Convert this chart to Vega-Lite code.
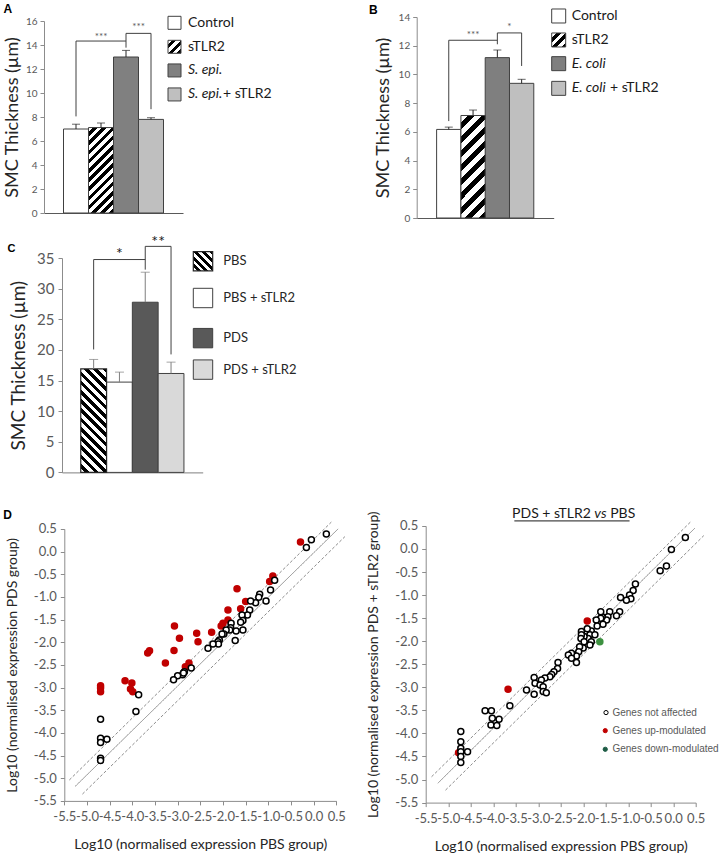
{
"$schema": "https://vega.github.io/schema/vega-lite/v6.json",
"background": "white",
"padding": {"left": 3, "top": 3, "right": 0, "bottom": 0},
"config": {"view": {"stroke": null}, "font": "Lato", "axis": {"grid": false, "labelFont": "Lato", "titleFont": "Lato"}, "text": {"font": "Lato"}, "legend": {"disable": true}},
"columns": 2,
"bounds": "flush",
"align": {"row": "each", "column": "none"},
"spacing": {"row": 40, "column": 79.7},
"resolve": {"scale": {"fill": "independent", "stroke": "independent", "strokeDash": "independent"}},
"concat": [
{
 "width": 272.8, "height": 196,
 "title": {"text": "A", "anchor": "start", "frame": "bounds", "font": "Liberation Sans", "fontSize": 12, "fontWeight": "bold", "color": "black", "offset": -2, "dx": 0},
 "resolve": {"scale": {"x": "independent"}},
 "layer": [
  {"layer": [
   {"data": {"values": [{"g":"Control","v":7.0,"e":7.4},{"g":"sTLR2","v":7.12,"e":7.5},{"g":"S. epi.","v":13.0,"e":13.55},{"g":"S. epi.+ sTLR2","v":7.8,"e":7.94}]},
    "transform": [{"filter": "datum.g !== 'sTLR2'"}],
    "mark": {"type": "bar", "stroke": "#404040", "strokeWidth": 1},
    "encoding": {
     "x": {"field":"g","type":"nominal","title":null,"scale":{"domain":["Control","sTLR2","S. epi.","S. epi.+ sTLR2"],"range":[0,139],"paddingInner":0,"paddingOuter":0.78},"axis":{"title":null,"labels":false,"ticks":false,"domainColor":"#595959","grid":false}},
     "y": {"field":"v","type":"quantitative","title":"SMC Thickness (µm)","scale":{"domain":[0,16],"range":[196,4],"nice":false},"axis":{"title":"SMC Thickness (µm)","values":[0,2,4,6,8,10,12,14,16],"grid":false,"domainColor":"#8c8c8c","tickColor":"#8c8c8c","tickSize":4,"labelFontSize":10,"labelColor":"#595959","labelPadding":3,"titleFontSize":18,"titleFontWeight":"normal","titleColor":"#262626","titlePadding":4}},
     "fill": {"field":"g","type":"nominal","scale":{"domain":["Control","sTLR2","S. epi.","S. epi.+ sTLR2"],"range":["white","white","#808080","#bfbfbf"]},"legend":null}
    }},
   {"data": {"values": [{"g":"sTLR2","v":7.12,"e":7.5}]},
    "mark": {"type": "bar", "stroke": "#404040", "strokeWidth": 1, "fill": {"gradient":"linear","x1":0,"y1":0,"x2":0.348,"y2":1.19,"stops":[{"offset":0,"color":"white"},{"offset":0.0417,"color":"white"},{"offset":0.0417,"color":"black"},{"offset":0.0833,"color":"black"},{"offset":0.0833,"color":"white"},{"offset":0.125,"color":"white"},{"offset":0.125,"color":"black"},{"offset":0.1667,"color":"black"},{"offset":0.1667,"color":"white"},{"offset":0.2083,"color":"white"},{"offset":0.2083,"color":"black"},{"offset":0.25,"color":"black"},{"offset":0.25,"color":"white"},{"offset":0.2917,"color":"white"},{"offset":0.2917,"color":"black"},{"offset":0.3333,"color":"black"},{"offset":0.3333,"color":"white"},{"offset":0.375,"color":"white"},{"offset":0.375,"color":"black"},{"offset":0.4167,"color":"black"},{"offset":0.4167,"color":"white"},{"offset":0.4583,"color":"white"},{"offset":0.4583,"color":"black"},{"offset":0.5,"color":"black"},{"offset":0.5,"color":"white"},{"offset":0.5417,"color":"white"},{"offset":0.5417,"color":"black"},{"offset":0.5833,"color":"black"},{"offset":0.5833,"color":"white"},{"offset":0.625,"color":"white"},{"offset":0.625,"color":"black"},{"offset":0.6667,"color":"black"},{"offset":0.6667,"color":"white"},{"offset":0.7083,"color":"white"},{"offset":0.7083,"color":"black"},{"offset":0.75,"color":"black"},{"offset":0.75,"color":"white"},{"offset":0.7917,"color":"white"},{"offset":0.7917,"color":"black"},{"offset":0.8333,"color":"black"},{"offset":0.8333,"color":"white"},{"offset":0.875,"color":"white"},{"offset":0.875,"color":"black"},{"offset":0.9167,"color":"black"},{"offset":0.9167,"color":"white"},{"offset":0.9583,"color":"white"},{"offset":0.9583,"color":"black"},{"offset":1,"color":"black"}]}},
    "encoding": {
     "x": {"field":"g","type":"nominal","title":null,"scale":{"domain":["Control","sTLR2","S. epi.","S. epi.+ sTLR2"],"range":[0,139],"paddingInner":0,"paddingOuter":0.78},"axis":{"title":null,"labels":false,"ticks":false,"domainColor":"#595959","grid":false}},
     "y": {"field":"v","type":"quantitative","title":"SMC Thickness (µm)","scale":{"domain":[0,16],"range":[196,4],"nice":false},"axis":{"title":"SMC Thickness (µm)","values":[0,2,4,6,8,10,12,14,16],"grid":false,"domainColor":"#8c8c8c","tickColor":"#8c8c8c","tickSize":4,"labelFontSize":10,"labelColor":"#595959","labelPadding":3,"titleFontSize":18,"titleFontWeight":"normal","titleColor":"#262626","titlePadding":4}}
    }},
   {"data": {"values": [{"g":"Control","v":7.0,"e":7.4},{"g":"sTLR2","v":7.12,"e":7.5},{"g":"S. epi.","v":13.0,"e":13.55},{"g":"S. epi.+ sTLR2","v":7.8,"e":7.94}]},
    "layer": [
     {"mark": {"type": "rule", "color": "#262626", "strokeWidth": 1},
      "encoding": {
       "x": {"field":"g","type":"nominal","title":null,"scale":{"domain":["Control","sTLR2","S. epi.","S. epi.+ sTLR2"],"range":[0,139],"paddingInner":0,"paddingOuter":0.78},"axis":{"title":null,"labels":false,"ticks":false,"domainColor":"#595959","grid":false}},
       "y": {"field":"v","type":"quantitative","title":"SMC Thickness (µm)","scale":{"domain":[0,16],"range":[196,4],"nice":false},"axis":{"title":"SMC Thickness (µm)","values":[0,2,4,6,8,10,12,14,16],"grid":false,"domainColor":"#8c8c8c","tickColor":"#8c8c8c","tickSize":4,"labelFontSize":10,"labelColor":"#595959","labelPadding":3,"titleFontSize":18,"titleFontWeight":"normal","titleColor":"#262626","titlePadding":4}},
       "y2": {"field":"e"}
      }},
     {"mark": {"type": "tick", "orient": "horizontal", "color": "#262626", "size": 8, "thickness": 1},
      "encoding": {
       "x": {"field":"g","type":"nominal","title":null,"scale":{"domain":["Control","sTLR2","S. epi.","S. epi.+ sTLR2"],"range":[0,139],"paddingInner":0,"paddingOuter":0.78},"axis":{"title":null,"labels":false,"ticks":false,"domainColor":"#595959","grid":false}},
       "y": {"field":"e","type":"quantitative","title":"SMC Thickness (µm)","scale":{"domain":[0,16],"range":[196,4],"nice":false},"axis":{"title":"SMC Thickness (µm)","values":[0,2,4,6,8,10,12,14,16],"grid":false,"domainColor":"#8c8c8c","tickColor":"#8c8c8c","tickSize":4,"labelFontSize":10,"labelColor":"#595959","labelPadding":3,"titleFontSize":18,"titleFontWeight":"normal","titleColor":"#262626","titlePadding":4}}
      }}
    ]},
   {"data": {"values": [{"a":"Control","b":"S. epi.","y1":14.33,"y2":14.33},{"a":"Control","b":"Control","y1":8.05,"y2":14.33},{"a":"S. epi.","b":"S. epi.","y1":13.78,"y2":14.97},{"a":"S. epi.","b":"S. epi.+ sTLR2","y1":14.97,"y2":14.97},{"a":"S. epi.+ sTLR2","b":"S. epi.+ sTLR2","y1":8.65,"y2":14.97}]},
    "mark": {"type": "rule", "color": "#404040", "strokeWidth": 1},
    "encoding": {
     "x": {"field":"a","type":"nominal","title":null,"scale":{"domain":["Control","sTLR2","S. epi.","S. epi.+ sTLR2"],"range":[0,139],"paddingInner":0,"paddingOuter":0.78},"axis":{"title":null,"labels":false,"ticks":false,"domainColor":"#595959","grid":false}},
     "x2": {"field":"b"},
     "y": {"field":"y1","type":"quantitative","title":"SMC Thickness (µm)","scale":{"domain":[0,16],"range":[196,4],"nice":false},"axis":{"title":"SMC Thickness (µm)","values":[0,2,4,6,8,10,12,14,16],"grid":false,"domainColor":"#8c8c8c","tickColor":"#8c8c8c","tickSize":4,"labelFontSize":10,"labelColor":"#595959","labelPadding":3,"titleFontSize":18,"titleFontWeight":"normal","titleColor":"#262626","titlePadding":4}},
     "y2": {"field":"y2"}
    }},
   {"data": {"values": [{"g":"sTLR2","y":14.65,"t":"***"}]},
    "mark": {"type": "text", "fontSize": 10, "color": "#595959", "baseline": "middle", "align": "center"},
    "encoding": {
     "x": {"field":"g","type":"nominal","title":null,"scale":{"domain":["Control","sTLR2","S. epi.","S. epi.+ sTLR2"],"range":[0,139],"paddingInner":0,"paddingOuter":0.78},"axis":{"title":null,"labels":false,"ticks":false,"domainColor":"#595959","grid":false}},
     "y": {"field":"y","type":"quantitative","title":"SMC Thickness (µm)","scale":{"domain":[0,16],"range":[196,4],"nice":false},"axis":{"title":"SMC Thickness (µm)","values":[0,2,4,6,8,10,12,14,16],"grid":false,"domainColor":"#8c8c8c","tickColor":"#8c8c8c","tickSize":4,"labelFontSize":10,"labelColor":"#595959","labelPadding":3,"titleFontSize":18,"titleFontWeight":"normal","titleColor":"#262626","titlePadding":4}},
     "text": {"field":"t"}
    }},
   {"data": {"values": [{"g":"S. epi.","y":15.5,"t":"***"}]},
    "mark": {"type": "text", "fontSize": 10, "color": "#595959", "baseline": "middle", "align": "center"},
    "encoding": {
     "x": {"field":"g","type":"nominal","bandPosition":1,"title":null,"scale":{"domain":["Control","sTLR2","S. epi.","S. epi.+ sTLR2"],"range":[0,139],"paddingInner":0,"paddingOuter":0.78},"axis":{"title":null,"labels":false,"ticks":false,"domainColor":"#595959","grid":false}},
     "y": {"field":"y","type":"quantitative","title":"SMC Thickness (µm)","scale":{"domain":[0,16],"range":[196,4],"nice":false},"axis":{"title":"SMC Thickness (µm)","values":[0,2,4,6,8,10,12,14,16],"grid":false,"domainColor":"#8c8c8c","tickColor":"#8c8c8c","tickSize":4,"labelFontSize":10,"labelColor":"#595959","labelPadding":3,"titleFontSize":18,"titleFontWeight":"normal","titleColor":"#262626","titlePadding":4}},
     "text": {"field":"t"}
    }}
  ]},
  {"layer": [
   {"data": {"values": [{"g":"Control","lx":130.5,"ly":15.85},{"g":"S. epi.","lx":130.5,"ly":11.88},{"g":"S. epi.+ sTLR2","lx":130.5,"ly":9.88}]},
    "mark": {"type": "point", "shape": "square", "size": 169, "filled": true, "opacity": 1, "stroke": "#404040", "strokeWidth": 1},
    "encoding": {
     "x": {"field":"lx","type":"quantitative","scale":{"domain":[0,272.8],"range":[0,272.8],"nice":false,"zero":false},"axis":null},
     "y": {"field":"ly","type":"quantitative","title":"SMC Thickness (µm)","scale":{"domain":[0,16],"range":[196,4],"nice":false},"axis":{"title":"SMC Thickness (µm)","values":[0,2,4,6,8,10,12,14,16],"grid":false,"domainColor":"#8c8c8c","tickColor":"#8c8c8c","tickSize":4,"labelFontSize":10,"labelColor":"#595959","labelPadding":3,"titleFontSize":18,"titleFontWeight":"normal","titleColor":"#262626","titlePadding":4}},
     "fill": {"field":"g","type":"nominal","scale":{"domain":["Control","sTLR2","S. epi.","S. epi.+ sTLR2"],"range":["white","white","#808080","#bfbfbf"]},"legend":null}
    }},
   {"data": {"values": [{"g":"sTLR2","lx":130.5,"ly":13.85}]},
    "mark": {"type": "point", "shape": "square", "size": 169, "filled": true, "opacity": 1, "stroke": "#404040", "strokeWidth": 1, "fill": {"gradient":"linear","x1":0,"y1":0,"x2":1,"y2":1,"stops":[{"offset":0,"color":"white"},{"offset":0.1667,"color":"white"},{"offset":0.1667,"color":"black"},{"offset":0.3333,"color":"black"},{"offset":0.3333,"color":"white"},{"offset":0.5,"color":"white"},{"offset":0.5,"color":"black"},{"offset":0.6667,"color":"black"},{"offset":0.6667,"color":"white"},{"offset":0.8333,"color":"white"},{"offset":0.8333,"color":"black"},{"offset":1,"color":"black"}]}},
    "encoding": {
     "x": {"field":"lx","type":"quantitative","scale":{"domain":[0,272.8],"range":[0,272.8],"nice":false,"zero":false},"axis":null},
     "y": {"field":"ly","type":"quantitative","title":"SMC Thickness (µm)","scale":{"domain":[0,16],"range":[196,4],"nice":false},"axis":{"title":"SMC Thickness (µm)","values":[0,2,4,6,8,10,12,14,16],"grid":false,"domainColor":"#8c8c8c","tickColor":"#8c8c8c","tickSize":4,"labelFontSize":10,"labelColor":"#595959","labelPadding":3,"titleFontSize":18,"titleFontWeight":"normal","titleColor":"#262626","titlePadding":4}}
    }},
   {"data": {"values": [{"t":"Control","lx":144,"ly":15.85},{"t":"sTLR2","lx":144,"ly":13.85},{"t":"+ sTLR2","lx":179,"ly":9.88}]},
    "mark": {"type": "text", "align": "left", "baseline": "middle", "fontSize": 14, "color": "#1a1a1a"},
    "encoding": {
     "x": {"field":"lx","type":"quantitative","scale":{"domain":[0,272.8],"range":[0,272.8],"nice":false,"zero":false},"axis":null},
     "y": {"field":"ly","type":"quantitative","title":"SMC Thickness (µm)","scale":{"domain":[0,16],"range":[196,4],"nice":false},"axis":{"title":"SMC Thickness (µm)","values":[0,2,4,6,8,10,12,14,16],"grid":false,"domainColor":"#8c8c8c","tickColor":"#8c8c8c","tickSize":4,"labelFontSize":10,"labelColor":"#595959","labelPadding":3,"titleFontSize":18,"titleFontWeight":"normal","titleColor":"#262626","titlePadding":4}},
     "text": {"field":"t"}
    }},
   {"data": {"values": [{"t":"S. epi.","lx":144,"ly":11.88},{"t":"S. epi.","lx":144,"ly":9.88}]},
    "mark": {"type": "text", "align": "left", "baseline": "middle", "fontSize": 14, "fontStyle": "italic", "color": "#1a1a1a"},
    "encoding": {
     "x": {"field":"lx","type":"quantitative","scale":{"domain":[0,272.8],"range":[0,272.8],"nice":false,"zero":false},"axis":null},
     "y": {"field":"ly","type":"quantitative","title":"SMC Thickness (µm)","scale":{"domain":[0,16],"range":[196,4],"nice":false},"axis":{"title":"SMC Thickness (µm)","values":[0,2,4,6,8,10,12,14,16],"grid":false,"domainColor":"#8c8c8c","tickColor":"#8c8c8c","tickSize":4,"labelFontSize":10,"labelColor":"#595959","labelPadding":3,"titleFontSize":18,"titleFontWeight":"normal","titleColor":"#262626","titlePadding":4}},
     "text": {"field":"t"}
    }}
  ]}
 ]
},
{
 "width": 240, "height": 201,
 "title": {"text": "B", "anchor": "start", "frame": "bounds", "font": "Liberation Sans", "fontSize": 12, "fontWeight": "bold", "color": "black", "offset": -10, "dx": -5},
 "resolve": {"scale": {"x": "independent"}},
 "layer": [
  {"layer": [
   {"data": {"values": [{"g":"Control","v":6.17,"e":6.33},{"g":"sTLR2","v":7.14,"e":7.52},{"g":"E. coli","v":11.17,"e":11.7},{"g":"E. coli + sTLR2","v":9.38,"e":9.66}]},
    "transform": [{"filter": "datum.g !== 'sTLR2'"}],
    "mark": {"type": "bar", "stroke": "#404040", "strokeWidth": 1},
    "encoding": {
     "x": {"field":"g","type":"nominal","title":null,"scale":{"domain":["Control","sTLR2","E. coli","E. coli + sTLR2"],"range":[0,137],"paddingInner":0,"paddingOuter":0.82},"axis":{"title":null,"labels":false,"ticks":false,"domainColor":"#595959","grid":false}},
     "y": {"field":"v","type":"quantitative","title":"SMC Thickness (µm)","scale":{"domain":[0,14],"range":[201,0],"nice":false},"axis":{"title":"SMC Thickness (µm)","values":[0,2,4,6,8,10,12,14],"grid":false,"domainColor":"#8c8c8c","tickColor":"#8c8c8c","tickSize":4,"labelFontSize":10,"labelColor":"#595959","labelPadding":3,"titleFontSize":18,"titleFontWeight":"normal","titleColor":"#262626","titlePadding":6}},
     "fill": {"field":"g","type":"nominal","scale":{"domain":["Control","sTLR2","E. coli","E. coli + sTLR2"],"range":["white","white","#7f7f7f","#bfbfbf"]},"legend":null}
    }},
   {"data": {"values": [{"g":"sTLR2","v":7.14,"e":7.52}]},
    "mark": {"type": "bar", "stroke": "#404040", "strokeWidth": 1, "fill": {"gradient":"linear","x1":0,"y1":0,"x2":0.278,"y2":1.172,"stops":[{"offset":0,"color":"white"},{"offset":0.0556,"color":"white"},{"offset":0.0556,"color":"black"},{"offset":0.1111,"color":"black"},{"offset":0.1111,"color":"white"},{"offset":0.1667,"color":"white"},{"offset":0.1667,"color":"black"},{"offset":0.2222,"color":"black"},{"offset":0.2222,"color":"white"},{"offset":0.2778,"color":"white"},{"offset":0.2778,"color":"black"},{"offset":0.3333,"color":"black"},{"offset":0.3333,"color":"white"},{"offset":0.3889,"color":"white"},{"offset":0.3889,"color":"black"},{"offset":0.4444,"color":"black"},{"offset":0.4444,"color":"white"},{"offset":0.5,"color":"white"},{"offset":0.5,"color":"black"},{"offset":0.5556,"color":"black"},{"offset":0.5556,"color":"white"},{"offset":0.6111,"color":"white"},{"offset":0.6111,"color":"black"},{"offset":0.6667,"color":"black"},{"offset":0.6667,"color":"white"},{"offset":0.7222,"color":"white"},{"offset":0.7222,"color":"black"},{"offset":0.7778,"color":"black"},{"offset":0.7778,"color":"white"},{"offset":0.8333,"color":"white"},{"offset":0.8333,"color":"black"},{"offset":0.8889,"color":"black"},{"offset":0.8889,"color":"white"},{"offset":0.9444,"color":"white"},{"offset":0.9444,"color":"black"},{"offset":1,"color":"black"}]}},
    "encoding": {
     "x": {"field":"g","type":"nominal","title":null,"scale":{"domain":["Control","sTLR2","E. coli","E. coli + sTLR2"],"range":[0,137],"paddingInner":0,"paddingOuter":0.82},"axis":{"title":null,"labels":false,"ticks":false,"domainColor":"#595959","grid":false}},
     "y": {"field":"v","type":"quantitative","title":"SMC Thickness (µm)","scale":{"domain":[0,14],"range":[201,0],"nice":false},"axis":{"title":"SMC Thickness (µm)","values":[0,2,4,6,8,10,12,14],"grid":false,"domainColor":"#8c8c8c","tickColor":"#8c8c8c","tickSize":4,"labelFontSize":10,"labelColor":"#595959","labelPadding":3,"titleFontSize":18,"titleFontWeight":"normal","titleColor":"#262626","titlePadding":6}}
    }},
   {"data": {"values": [{"g":"Control","v":6.17,"e":6.33},{"g":"sTLR2","v":7.14,"e":7.52},{"g":"E. coli","v":11.17,"e":11.7},{"g":"E. coli + sTLR2","v":9.38,"e":9.66}]},
    "layer": [
     {"mark": {"type": "rule", "color": "#262626", "strokeWidth": 1},
      "encoding": {
       "x": {"field":"g","type":"nominal","title":null,"scale":{"domain":["Control","sTLR2","E. coli","E. coli + sTLR2"],"range":[0,137],"paddingInner":0,"paddingOuter":0.82},"axis":{"title":null,"labels":false,"ticks":false,"domainColor":"#595959","grid":false}},
       "y": {"field":"v","type":"quantitative","title":"SMC Thickness (µm)","scale":{"domain":[0,14],"range":[201,0],"nice":false},"axis":{"title":"SMC Thickness (µm)","values":[0,2,4,6,8,10,12,14],"grid":false,"domainColor":"#8c8c8c","tickColor":"#8c8c8c","tickSize":4,"labelFontSize":10,"labelColor":"#595959","labelPadding":3,"titleFontSize":18,"titleFontWeight":"normal","titleColor":"#262626","titlePadding":6}},
       "y2": {"field":"e"}
      }},
     {"mark": {"type": "tick", "orient": "horizontal", "color": "#262626", "size": 8, "thickness": 1},
      "encoding": {
       "x": {"field":"g","type":"nominal","title":null,"scale":{"domain":["Control","sTLR2","E. coli","E. coli + sTLR2"],"range":[0,137],"paddingInner":0,"paddingOuter":0.82},"axis":{"title":null,"labels":false,"ticks":false,"domainColor":"#595959","grid":false}},
       "y": {"field":"e","type":"quantitative","title":"SMC Thickness (µm)","scale":{"domain":[0,14],"range":[201,0],"nice":false},"axis":{"title":"SMC Thickness (µm)","values":[0,2,4,6,8,10,12,14],"grid":false,"domainColor":"#8c8c8c","tickColor":"#8c8c8c","tickSize":4,"labelFontSize":10,"labelColor":"#595959","labelPadding":3,"titleFontSize":18,"titleFontWeight":"normal","titleColor":"#262626","titlePadding":6}}
      }}
    ]},
   {"data": {"values": [{"a":"Control","b":"E. coli","y1":12.38,"y2":12.38},{"a":"Control","b":"Control","y1":6.75,"y2":12.38},{"a":"E. coli","b":"E. coli","y1":12.1,"y2":12.89},{"a":"E. coli","b":"E. coli + sTLR2","y1":12.89,"y2":12.89},{"a":"E. coli + sTLR2","b":"E. coli + sTLR2","y1":10.59,"y2":12.89}]},
    "mark": {"type": "rule", "color": "#404040", "strokeWidth": 1},
    "encoding": {
     "x": {"field":"a","type":"nominal","title":null,"scale":{"domain":["Control","sTLR2","E. coli","E. coli + sTLR2"],"range":[0,137],"paddingInner":0,"paddingOuter":0.82},"axis":{"title":null,"labels":false,"ticks":false,"domainColor":"#595959","grid":false}},
     "x2": {"field":"b"},
     "y": {"field":"y1","type":"quantitative","title":"SMC Thickness (µm)","scale":{"domain":[0,14],"range":[201,0],"nice":false},"axis":{"title":"SMC Thickness (µm)","values":[0,2,4,6,8,10,12,14],"grid":false,"domainColor":"#8c8c8c","tickColor":"#8c8c8c","tickSize":4,"labelFontSize":10,"labelColor":"#595959","labelPadding":3,"titleFontSize":18,"titleFontWeight":"normal","titleColor":"#262626","titlePadding":6}},
     "y2": {"field":"y2"}
    }},
   {"data": {"values": [{"g":"sTLR2","y":12.72,"t":"***"}]},
    "mark": {"type": "text", "fontSize": 10, "color": "#595959", "baseline": "middle", "align": "center"},
    "encoding": {
     "x": {"field":"g","type":"nominal","title":null,"scale":{"domain":["Control","sTLR2","E. coli","E. coli + sTLR2"],"range":[0,137],"paddingInner":0,"paddingOuter":0.82},"axis":{"title":null,"labels":false,"ticks":false,"domainColor":"#595959","grid":false}},
     "y": {"field":"y","type":"quantitative","title":"SMC Thickness (µm)","scale":{"domain":[0,14],"range":[201,0],"nice":false},"axis":{"title":"SMC Thickness (µm)","values":[0,2,4,6,8,10,12,14],"grid":false,"domainColor":"#8c8c8c","tickColor":"#8c8c8c","tickSize":4,"labelFontSize":10,"labelColor":"#595959","labelPadding":3,"titleFontSize":18,"titleFontWeight":"normal","titleColor":"#262626","titlePadding":6}},
     "text": {"field":"t"}
    }},
   {"data": {"values": [{"g":"E. coli","y":13.3,"t":"*"}]},
    "mark": {"type": "text", "fontSize": 10, "color": "#595959", "baseline": "middle", "align": "center"},
    "encoding": {
     "x": {"field":"g","type":"nominal","bandPosition":1,"title":null,"scale":{"domain":["Control","sTLR2","E. coli","E. coli + sTLR2"],"range":[0,137],"paddingInner":0,"paddingOuter":0.82},"axis":{"title":null,"labels":false,"ticks":false,"domainColor":"#595959","grid":false}},
     "y": {"field":"y","type":"quantitative","title":"SMC Thickness (µm)","scale":{"domain":[0,14],"range":[201,0],"nice":false},"axis":{"title":"SMC Thickness (µm)","values":[0,2,4,6,8,10,12,14],"grid":false,"domainColor":"#8c8c8c","tickColor":"#8c8c8c","tickSize":4,"labelFontSize":10,"labelColor":"#595959","labelPadding":3,"titleFontSize":18,"titleFontWeight":"normal","titleColor":"#262626","titlePadding":6}},
     "text": {"field":"t"}
    }}
  ]},
  {"layer": [
   {"data": {"values": [{"g":"Control","lx":142,"ly":14.07},{"g":"E. coli","lx":142,"ly":10.75},{"g":"E. coli + sTLR2","lx":142,"ly":9.03}]},
    "mark": {"type": "point", "shape": "square", "size": 196, "filled": true, "opacity": 1, "stroke": "#404040", "strokeWidth": 1},
    "encoding": {
     "x": {"field":"lx","type":"quantitative","scale":{"domain":[0,240],"range":[0,240],"nice":false,"zero":false},"axis":null},
     "y": {"field":"ly","type":"quantitative","title":"SMC Thickness (µm)","scale":{"domain":[0,14],"range":[201,0],"nice":false},"axis":{"title":"SMC Thickness (µm)","values":[0,2,4,6,8,10,12,14],"grid":false,"domainColor":"#8c8c8c","tickColor":"#8c8c8c","tickSize":4,"labelFontSize":10,"labelColor":"#595959","labelPadding":3,"titleFontSize":18,"titleFontWeight":"normal","titleColor":"#262626","titlePadding":6}},
     "fill": {"field":"g","type":"nominal","scale":{"domain":["Control","sTLR2","E. coli","E. coli + sTLR2"],"range":["white","white","#7f7f7f","#bfbfbf"]},"legend":null}
    }},
   {"data": {"values": [{"g":"sTLR2","lx":142,"ly":12.4}]},
    "mark": {"type": "point", "shape": "square", "size": 196, "filled": true, "opacity": 1, "stroke": "#404040", "strokeWidth": 1, "fill": {"gradient":"linear","x1":0,"y1":0,"x2":1,"y2":1,"stops":[{"offset":0,"color":"white"},{"offset":0.1667,"color":"white"},{"offset":0.1667,"color":"black"},{"offset":0.3333,"color":"black"},{"offset":0.3333,"color":"white"},{"offset":0.5,"color":"white"},{"offset":0.5,"color":"black"},{"offset":0.6667,"color":"black"},{"offset":0.6667,"color":"white"},{"offset":0.8333,"color":"white"},{"offset":0.8333,"color":"black"},{"offset":1,"color":"black"}]}},
    "encoding": {
     "x": {"field":"lx","type":"quantitative","scale":{"domain":[0,240],"range":[0,240],"nice":false,"zero":false},"axis":null},
     "y": {"field":"ly","type":"quantitative","title":"SMC Thickness (µm)","scale":{"domain":[0,14],"range":[201,0],"nice":false},"axis":{"title":"SMC Thickness (µm)","values":[0,2,4,6,8,10,12,14],"grid":false,"domainColor":"#8c8c8c","tickColor":"#8c8c8c","tickSize":4,"labelFontSize":10,"labelColor":"#595959","labelPadding":3,"titleFontSize":18,"titleFontWeight":"normal","titleColor":"#262626","titlePadding":6}}
    }},
   {"data": {"values": [{"t":"Control","lx":155,"ly":14.07},{"t":"sTLR2","lx":155,"ly":12.4},{"t":"+ sTLR2","lx":193.3,"ly":9.03}]},
    "mark": {"type": "text", "align": "left", "baseline": "middle", "fontSize": 14, "color": "#1a1a1a"},
    "encoding": {
     "x": {"field":"lx","type":"quantitative","scale":{"domain":[0,240],"range":[0,240],"nice":false,"zero":false},"axis":null},
     "y": {"field":"ly","type":"quantitative","title":"SMC Thickness (µm)","scale":{"domain":[0,14],"range":[201,0],"nice":false},"axis":{"title":"SMC Thickness (µm)","values":[0,2,4,6,8,10,12,14],"grid":false,"domainColor":"#8c8c8c","tickColor":"#8c8c8c","tickSize":4,"labelFontSize":10,"labelColor":"#595959","labelPadding":3,"titleFontSize":18,"titleFontWeight":"normal","titleColor":"#262626","titlePadding":6}},
     "text": {"field":"t"}
    }},
   {"data": {"values": [{"t":"E. coli","lx":155,"ly":10.75},{"t":"E. coli","lx":155,"ly":9.03}]},
    "mark": {"type": "text", "align": "left", "baseline": "middle", "fontSize": 14, "fontStyle": "italic", "color": "#1a1a1a"},
    "encoding": {
     "x": {"field":"lx","type":"quantitative","scale":{"domain":[0,240],"range":[0,240],"nice":false,"zero":false},"axis":null},
     "y": {"field":"ly","type":"quantitative","title":"SMC Thickness (µm)","scale":{"domain":[0,14],"range":[201,0],"nice":false},"axis":{"title":"SMC Thickness (µm)","values":[0,2,4,6,8,10,12,14],"grid":false,"domainColor":"#8c8c8c","tickColor":"#8c8c8c","tickSize":4,"labelFontSize":10,"labelColor":"#595959","labelPadding":3,"titleFontSize":18,"titleFontWeight":"normal","titleColor":"#262626","titlePadding":6}},
     "text": {"field":"t"}
    }}
  ]}
 ]
},
{
 "width": 260, "height": 214.4,
 "title": {"text": "C", "anchor": "start", "frame": "bounds", "font": "Liberation Sans", "fontSize": 11, "fontWeight": "bold", "color": "black", "offset": -20, "dx": -2},
 "resolve": {"scale": {"x": "independent"}},
 "layer": [
  {"layer": [
   {"data": {"values": [{"g":"PBS","v":16.9,"e":18.44},{"g":"PBS + sTLR2","v":14.74,"e":16.37},{"g":"PDS","v":27.78,"e":32.68},{"g":"PDS + sTLR2","v":16.15,"e":18.0}]},
    "transform": [{"filter": "datum.g !== 'PBS'"}],
    "mark": {"type": "bar", "stroke": "#404040", "strokeWidth": 1},
    "encoding": {
     "x": {"field":"g","type":"nominal","title":null,"scale":{"domain":["PBS","PBS + sTLR2","PDS","PDS + sTLR2"],"range":[18,158.7],"paddingInner":0,"paddingOuter":0.727},"axis":{"title":null,"labels":false,"ticks":false,"domainColor":"#7f7f7f","grid":false}},
     "y": {"field":"v","type":"quantitative","title":"SMC Thickness (µm)","scale":{"domain":[0,35],"nice":false},"axis":{"title":"SMC Thickness (µm)","values":[0,5,10,15,20,25,30,35],"offset":-18,"grid":false,"domainColor":"#8c8c8c","tickColor":"#8c8c8c","tickSize":4,"labelFontSize":15,"labelColor":"#595959","labelPadding":4,"titleFontSize":19,"titleFontWeight":"normal","titleColor":"#262626","titlePadding":8}},
     "fill": {"field":"g","type":"nominal","scale":{"domain":["PBS","PBS + sTLR2","PDS","PDS + sTLR2"],"range":["white","white","#595959","#d9d9d9"]},"legend":null}
    }},
   {"data": {"values": [{"g":"PBS","v":16.9,"e":18.44}]},
    "mark": {"type": "bar", "stroke": "#262626", "strokeWidth": 1.2, "fill": {"gradient":"linear","x1":0,"y1":1,"x2":0.293,"y2":-0.176,"stops":[{"offset":0,"color":"white"},{"offset":0.0357,"color":"white"},{"offset":0.0357,"color":"black"},{"offset":0.0714,"color":"black"},{"offset":0.0714,"color":"white"},{"offset":0.1071,"color":"white"},{"offset":0.1071,"color":"black"},{"offset":0.1429,"color":"black"},{"offset":0.1429,"color":"white"},{"offset":0.1786,"color":"white"},{"offset":0.1786,"color":"black"},{"offset":0.2143,"color":"black"},{"offset":0.2143,"color":"white"},{"offset":0.25,"color":"white"},{"offset":0.25,"color":"black"},{"offset":0.2857,"color":"black"},{"offset":0.2857,"color":"white"},{"offset":0.3214,"color":"white"},{"offset":0.3214,"color":"black"},{"offset":0.3571,"color":"black"},{"offset":0.3571,"color":"white"},{"offset":0.3929,"color":"white"},{"offset":0.3929,"color":"black"},{"offset":0.4286,"color":"black"},{"offset":0.4286,"color":"white"},{"offset":0.4643,"color":"white"},{"offset":0.4643,"color":"black"},{"offset":0.5,"color":"black"},{"offset":0.5,"color":"white"},{"offset":0.5357,"color":"white"},{"offset":0.5357,"color":"black"},{"offset":0.5714,"color":"black"},{"offset":0.5714,"color":"white"},{"offset":0.6071,"color":"white"},{"offset":0.6071,"color":"black"},{"offset":0.6429,"color":"black"},{"offset":0.6429,"color":"white"},{"offset":0.6786,"color":"white"},{"offset":0.6786,"color":"black"},{"offset":0.7143,"color":"black"},{"offset":0.7143,"color":"white"},{"offset":0.75,"color":"white"},{"offset":0.75,"color":"black"},{"offset":0.7857,"color":"black"},{"offset":0.7857,"color":"white"},{"offset":0.8214,"color":"white"},{"offset":0.8214,"color":"black"},{"offset":0.8571,"color":"black"},{"offset":0.8571,"color":"white"},{"offset":0.8929,"color":"white"},{"offset":0.8929,"color":"black"},{"offset":0.9286,"color":"black"},{"offset":0.9286,"color":"white"},{"offset":0.9643,"color":"white"},{"offset":0.9643,"color":"black"},{"offset":1,"color":"black"}]}},
    "encoding": {
     "x": {"field":"g","type":"nominal","title":null,"scale":{"domain":["PBS","PBS + sTLR2","PDS","PDS + sTLR2"],"range":[18,158.7],"paddingInner":0,"paddingOuter":0.727},"axis":{"title":null,"labels":false,"ticks":false,"domainColor":"#7f7f7f","grid":false}},
     "y": {"field":"v","type":"quantitative","title":"SMC Thickness (µm)","scale":{"domain":[0,35],"nice":false},"axis":{"title":"SMC Thickness (µm)","values":[0,5,10,15,20,25,30,35],"offset":-18,"grid":false,"domainColor":"#8c8c8c","tickColor":"#8c8c8c","tickSize":4,"labelFontSize":15,"labelColor":"#595959","labelPadding":4,"titleFontSize":19,"titleFontWeight":"normal","titleColor":"#262626","titlePadding":8}}
    }},
   {"data": {"values": [{"g":"PBS","v":16.9,"e":18.44},{"g":"PBS + sTLR2","v":14.74,"e":16.37},{"g":"PDS","v":27.78,"e":32.68},{"g":"PDS + sTLR2","v":16.15,"e":18.0}]},
    "layer": [
     {"mark": {"type": "rule", "color": "#7f7f7f", "strokeWidth": 1},
      "encoding": {
       "x": {"field":"g","type":"nominal","title":null,"scale":{"domain":["PBS","PBS + sTLR2","PDS","PDS + sTLR2"],"range":[18,158.7],"paddingInner":0,"paddingOuter":0.727},"axis":{"title":null,"labels":false,"ticks":false,"domainColor":"#7f7f7f","grid":false}},
       "y": {"field":"v","type":"quantitative","title":"SMC Thickness (µm)","scale":{"domain":[0,35],"nice":false},"axis":{"title":"SMC Thickness (µm)","values":[0,5,10,15,20,25,30,35],"offset":-18,"grid":false,"domainColor":"#8c8c8c","tickColor":"#8c8c8c","tickSize":4,"labelFontSize":15,"labelColor":"#595959","labelPadding":4,"titleFontSize":19,"titleFontWeight":"normal","titleColor":"#262626","titlePadding":8}},
       "y2": {"field":"e"}
      }},
     {"mark": {"type": "tick", "orient": "horizontal", "color": "#7f7f7f", "size": 9, "thickness": 1},
      "encoding": {
       "x": {"field":"g","type":"nominal","title":null,"scale":{"domain":["PBS","PBS + sTLR2","PDS","PDS + sTLR2"],"range":[18,158.7],"paddingInner":0,"paddingOuter":0.727},"axis":{"title":null,"labels":false,"ticks":false,"domainColor":"#7f7f7f","grid":false}},
       "y": {"field":"e","type":"quantitative","title":"SMC Thickness (µm)","scale":{"domain":[0,35],"nice":false},"axis":{"title":"SMC Thickness (µm)","values":[0,5,10,15,20,25,30,35],"offset":-18,"grid":false,"domainColor":"#8c8c8c","tickColor":"#8c8c8c","tickSize":4,"labelFontSize":15,"labelColor":"#595959","labelPadding":4,"titleFontSize":19,"titleFontWeight":"normal","titleColor":"#262626","titlePadding":8}}
      }}
    ]},
   {"data": {"values": [{"a":"PBS","b":"PBS","y1":20.07,"y2":34.75},{"a":"PBS","b":"PDS","y1":34.75,"y2":34.75},{"a":"PDS","b":"PDS","y1":33.1,"y2":36.9},{"a":"PDS","b":"PDS + sTLR2","y1":36.9,"y2":36.9},{"a":"PDS + sTLR2","b":"PDS + sTLR2","y1":19.26,"y2":36.9}]},
    "mark": {"type": "rule", "color": "#404040", "strokeWidth": 1},
    "encoding": {
     "x": {"field":"a","type":"nominal","title":null,"scale":{"domain":["PBS","PBS + sTLR2","PDS","PDS + sTLR2"],"range":[18,158.7],"paddingInner":0,"paddingOuter":0.727},"axis":{"title":null,"labels":false,"ticks":false,"domainColor":"#7f7f7f","grid":false}},
     "x2": {"field":"b"},
     "y": {"field":"y1","type":"quantitative","title":"SMC Thickness (µm)","scale":{"domain":[0,35],"nice":false},"axis":{"title":"SMC Thickness (µm)","values":[0,5,10,15,20,25,30,35],"offset":-18,"grid":false,"domainColor":"#8c8c8c","tickColor":"#8c8c8c","tickSize":4,"labelFontSize":15,"labelColor":"#595959","labelPadding":4,"titleFontSize":19,"titleFontWeight":"normal","titleColor":"#262626","titlePadding":8}},
     "y2": {"field":"y2"}
    }},
   {"data": {"values": [{"g":"PBS + sTLR2","y":35.6,"t":"*"}]},
    "mark": {"type": "text", "fontSize": 16, "color": "#1a1a1a", "baseline": "middle", "align": "center"},
    "encoding": {
     "x": {"field":"g","type":"nominal","title":null,"scale":{"domain":["PBS","PBS + sTLR2","PDS","PDS + sTLR2"],"range":[18,158.7],"paddingInner":0,"paddingOuter":0.727},"axis":{"title":null,"labels":false,"ticks":false,"domainColor":"#7f7f7f","grid":false}},
     "y": {"field":"y","type":"quantitative","title":"SMC Thickness (µm)","scale":{"domain":[0,35],"nice":false},"axis":{"title":"SMC Thickness (µm)","values":[0,5,10,15,20,25,30,35],"offset":-18,"grid":false,"domainColor":"#8c8c8c","tickColor":"#8c8c8c","tickSize":4,"labelFontSize":15,"labelColor":"#595959","labelPadding":4,"titleFontSize":19,"titleFontWeight":"normal","titleColor":"#262626","titlePadding":8}},
     "text": {"field":"t"}
    }},
   {"data": {"values": [{"g":"PDS","y":37.6,"t":"**"}]},
    "mark": {"type": "text", "fontSize": 16, "color": "#1a1a1a", "baseline": "middle", "align": "center"},
    "encoding": {
     "x": {"field":"g","type":"nominal","bandPosition":1,"title":null,"scale":{"domain":["PBS","PBS + sTLR2","PDS","PDS + sTLR2"],"range":[18,158.7],"paddingInner":0,"paddingOuter":0.727},"axis":{"title":null,"labels":false,"ticks":false,"domainColor":"#7f7f7f","grid":false}},
     "y": {"field":"y","type":"quantitative","title":"SMC Thickness (µm)","scale":{"domain":[0,35],"nice":false},"axis":{"title":"SMC Thickness (µm)","values":[0,5,10,15,20,25,30,35],"offset":-18,"grid":false,"domainColor":"#8c8c8c","tickColor":"#8c8c8c","tickSize":4,"labelFontSize":15,"labelColor":"#595959","labelPadding":4,"titleFontSize":19,"titleFontWeight":"normal","titleColor":"#262626","titlePadding":8}},
     "text": {"field":"t"}
    }}
  ]},
  {"layer": [
   {"data": {"values": [{"g":"PBS + sTLR2","lx":159,"ly":28.47},{"g":"PDS","lx":159,"ly":21.92},{"g":"PDS + sTLR2","lx":159,"ly":16.78}]},
    "mark": {"type": "point", "shape": "square", "size": 376, "filled": true, "opacity": 1, "stroke": "#404040", "strokeWidth": 1},
    "encoding": {
     "x": {"field":"lx","type":"quantitative","scale":{"domain":[0,260],"range":[0,260],"nice":false,"zero":false},"axis":null},
     "y": {"field":"ly","type":"quantitative","title":"SMC Thickness (µm)","scale":{"domain":[0,35],"nice":false},"axis":{"title":"SMC Thickness (µm)","values":[0,5,10,15,20,25,30,35],"offset":-18,"grid":false,"domainColor":"#8c8c8c","tickColor":"#8c8c8c","tickSize":4,"labelFontSize":15,"labelColor":"#595959","labelPadding":4,"titleFontSize":19,"titleFontWeight":"normal","titleColor":"#262626","titlePadding":8}},
     "fill": {"field":"g","type":"nominal","scale":{"domain":["PBS","PBS + sTLR2","PDS","PDS + sTLR2"],"range":["white","white","#595959","#d9d9d9"]},"legend":null}
    }},
   {"data": {"values": [{"g":"PBS","lx":159,"ly":34.47}]},
    "mark": {"type": "point", "shape": "square", "size": 376, "filled": true, "opacity": 1, "stroke": "#262626", "strokeWidth": 1.2, "fill": {"gradient":"linear","x1":0,"y1":1,"x2":1,"y2":0,"stops":[{"offset":0,"color":"white"},{"offset":0.1,"color":"white"},{"offset":0.1,"color":"black"},{"offset":0.2,"color":"black"},{"offset":0.2,"color":"white"},{"offset":0.3,"color":"white"},{"offset":0.3,"color":"black"},{"offset":0.4,"color":"black"},{"offset":0.4,"color":"white"},{"offset":0.5,"color":"white"},{"offset":0.5,"color":"black"},{"offset":0.6,"color":"black"},{"offset":0.6,"color":"white"},{"offset":0.7,"color":"white"},{"offset":0.7,"color":"black"},{"offset":0.8,"color":"black"},{"offset":0.8,"color":"white"},{"offset":0.9,"color":"white"},{"offset":0.9,"color":"black"},{"offset":1,"color":"black"}]}},
    "encoding": {
     "x": {"field":"lx","type":"quantitative","scale":{"domain":[0,260],"range":[0,260],"nice":false,"zero":false},"axis":null},
     "y": {"field":"ly","type":"quantitative","title":"SMC Thickness (µm)","scale":{"domain":[0,35],"nice":false},"axis":{"title":"SMC Thickness (µm)","values":[0,5,10,15,20,25,30,35],"offset":-18,"grid":false,"domainColor":"#8c8c8c","tickColor":"#8c8c8c","tickSize":4,"labelFontSize":15,"labelColor":"#595959","labelPadding":4,"titleFontSize":19,"titleFontWeight":"normal","titleColor":"#262626","titlePadding":8}}
    }},
   {"data": {"values": [{"t":"PBS","lx":179.3,"ly":34.47},{"t":"PBS + sTLR2","lx":179.3,"ly":28.47},{"t":"PDS","lx":179.3,"ly":21.92},{"t":"PDS + sTLR2","lx":179.3,"ly":16.78}]},
    "mark": {"type": "text", "align": "left", "baseline": "middle", "fontSize": 13, "color": "#262626"},
    "encoding": {
     "x": {"field":"lx","type":"quantitative","scale":{"domain":[0,260],"range":[0,260],"nice":false,"zero":false},"axis":null},
     "y": {"field":"ly","type":"quantitative","title":"SMC Thickness (µm)","scale":{"domain":[0,35],"nice":false},"axis":{"title":"SMC Thickness (µm)","values":[0,5,10,15,20,25,30,35],"offset":-18,"grid":false,"domainColor":"#8c8c8c","tickColor":"#8c8c8c","tickSize":4,"labelFontSize":15,"labelColor":"#595959","labelPadding":4,"titleFontSize":19,"titleFontWeight":"normal","titleColor":"#262626","titlePadding":8}},
     "text": {"field":"t"}
    }}
  ]}
 ]
},
{
 "width": 1, "height": 1,
 "data": {"values": [{"a": 0}]},
 "mark": {"type": "point", "opacity": 0}
},
{
 "width": 292.3, "height": 287.9,
 "title": {"text": "D", "anchor": "start", "frame": "bounds", "font": "Liberation Sans", "fontSize": 12, "fontWeight": "bold", "color": "black", "offset": -9, "dx": -2},
 "layer": [
  {"data": {"values": [{"ln":"solid","x":-5.26,"y":-5.18},{"ln":"solid","x":0.54,"y":0.5},{"ln":"up","x":-5.39,"y":-5.04},{"ln":"up","x":0.39,"y":0.65},{"ln":"lo","x":-5.1,"y":-5.35},{"ln":"lo","x":0.69,"y":0.33}]},
   "mark": {"type": "line", "color": "#8c8c8c", "strokeWidth": 1},
   "encoding": {
    "x": {"field":"x","type":"quantitative","title":"Log10 (normalised expression PBS group)","scale":{"domain":[-5.5,0.5],"range":[20.3,292.3],"nice":false,"zero":false},"axis":{"title":"Log10 (normalised expression PBS group)","values":[-5.5,-5,-4.5,-4,-3.5,-3,-2.5,-2,-1.5,-1,-0.5,0,0.5],"labelExpr":"replace(format(datum.value, '.1f'), '\u2212', '-')","grid":false,"domainColor":"#8c8c8c","tickColor":"#8c8c8c","tickSize":4,"labelFontSize":13,"labelColor":"#595959","labelPadding":6,"labelOverlap":false,"labelFlush":false,"titleFontSize":14,"titleFontWeight":"normal","titleColor":"#262626","titlePadding":14}},
    "y": {"field":"y","type":"quantitative","title":"Log10 (normalised expression PDS group)","scale":{"domain":[-5.5,0.5],"range":[287.9,15.9],"nice":false,"zero":false},"axis":{"title":"Log10 (normalised expression PDS group)","values":[-5.5,-5,-4.5,-4,-3.5,-3,-2.5,-2,-1.5,-1,-0.5,0,0.5],"labelExpr":"replace(format(datum.value, '.1f'), '\u2212', '-')","offset":-20.3,"grid":false,"domainColor":"#8c8c8c","tickColor":"#8c8c8c","tickSize":4,"labelFontSize":13,"labelColor":"#595959","labelPadding":4,"labelOverlap":false,"titleFontSize":14,"titleFontWeight":"normal","titleColor":"#262626","titlePadding":14}},
    "detail": {"field":"ln"},
    "strokeDash": {"field":"ln","type":"nominal","scale":{"domain":["solid","up","lo"],"range":[[1,0],[3,2],[3,2]]},"legend":null}
   }},
  {"data": {"values": [
    {"x":-0.29,"y":0.21,"s":"u"},{"x":-0.9,"y":-0.54,"s":"u"},{"x":-0.97,"y":-0.66,"s":"u"},{"x":-1.69,"y":-0.82,"s":"u"},{"x":-1.5,"y":-1.1,"s":"u"},{"x":-1.61,"y":-1.26,"s":"u"},{"x":-1.89,"y":-1.29,"s":"u"},{"x":-1.89,"y":-1.51,"s":"u"},{"x":-2.0,"y":-1.58,"s":"u"},{"x":-2.04,"y":-1.64,"s":"u"},{"x":-3.07,"y":-1.64,"s":"u"},{"x":-2.96,"y":-1.91,"s":"u"},{"x":-3.08,"y":-2.18,"s":"u"},{"x":-2.58,"y":-1.8,"s":"u"},{"x":-2.55,"y":-1.99,"s":"u"},{"x":-2.25,"y":-1.78,"s":"u"},{"x":-3.62,"y":-2.19,"s":"u"},{"x":-3.66,"y":-2.24,"s":"u"},{"x":-3.27,"y":-2.46,"s":"u"},{"x":-2.75,"y":-2.46,"s":"u"},{"x":-2.83,"y":-2.54,"s":"u"},{"x":-4.16,"y":-2.85,"s":"u"},{"x":-4.01,"y":-2.9,"s":"u"},{"x":-4.04,"y":-3.03,"s":"u"},{"x":-3.99,"y":-3.09,"s":"u"},{"x":-4.7,"y":-2.96,"s":"u"},{"x":-4.7,"y":-3.01,"s":"u"},{"x":-4.7,"y":-3.09,"s":"u"},
    {"x":0.28,"y":0.39,"s":"n"},{"x":-0.05,"y":0.26,"s":"n"},{"x":-0.16,"y":0.09,"s":"n"},{"x":-0.86,"y":-0.63,"s":"n"},{"x":-0.95,"y":-0.85,"s":"n"},{"x":-1.05,"y":-1.09,"s":"n"},{"x":-1.19,"y":-0.94,"s":"n"},{"x":-1.21,"y":-1.01,"s":"n"},{"x":-1.28,"y":-1.13,"s":"n"},{"x":-1.39,"y":-1.09,"s":"n"},{"x":-1.41,"y":-1.29,"s":"n"},{"x":-1.46,"y":-1.4,"s":"n"},{"x":-1.58,"y":-1.4,"s":"n"},{"x":-1.56,"y":-1.52,"s":"n"},{"x":-1.61,"y":-1.56,"s":"n"},{"x":-1.56,"y":-1.73,"s":"n"},{"x":-1.71,"y":-1.75,"s":"n"},{"x":-1.73,"y":-1.96,"s":"n"},{"x":-1.82,"y":-1.58,"s":"n"},{"x":-1.83,"y":-1.68,"s":"n"},{"x":-1.85,"y":-1.73,"s":"n"},{"x":-1.93,"y":-1.73,"s":"n"},{"x":-1.98,"y":-1.82,"s":"n"},{"x":-2.02,"y":-1.82,"s":"n"},{"x":-2.08,"y":-1.95,"s":"n"},{"x":-2.11,"y":-1.99,"s":"n"},{"x":-2.1,"y":-2.04,"s":"n"},{"x":-2.22,"y":-2.04,"s":"n"},{"x":-2.33,"y":-2.13,"s":"n"},{"x":-2.7,"y":-2.57,"s":"n"},{"x":-2.85,"y":-2.65,"s":"n"},{"x":-2.89,"y":-2.72,"s":"n"},{"x":-3.0,"y":-2.74,"s":"n"},{"x":-3.09,"y":-2.83,"s":"n"},{"x":-2.87,"y":-2.68,"s":"n"},{"x":-3.86,"y":-3.16,"s":"n"},{"x":-3.92,"y":-3.53,"s":"n"},{"x":-4.7,"y":-3.7,"s":"n"},{"x":-4.7,"y":-4.12,"s":"n"},{"x":-4.7,"y":-4.21,"s":"n"},{"x":-4.56,"y":-4.14,"s":"n"},{"x":-4.7,"y":-4.56,"s":"n"},{"x":-4.7,"y":-4.61,"s":"n"}
   ]},
   "mark": {"type": "point", "shape": "circle", "filled": true, "opacity": 1, "size": 36, "strokeWidth": 1.5},
   "encoding": {
    "x": {"field":"x","type":"quantitative","title":"Log10 (normalised expression PBS group)","scale":{"domain":[-5.5,0.5],"range":[20.3,292.3],"nice":false,"zero":false},"axis":{"title":"Log10 (normalised expression PBS group)","values":[-5.5,-5,-4.5,-4,-3.5,-3,-2.5,-2,-1.5,-1,-0.5,0,0.5],"labelExpr":"replace(format(datum.value, '.1f'), '\u2212', '-')","grid":false,"domainColor":"#8c8c8c","tickColor":"#8c8c8c","tickSize":4,"labelFontSize":13,"labelColor":"#595959","labelPadding":6,"labelOverlap":false,"labelFlush":false,"titleFontSize":14,"titleFontWeight":"normal","titleColor":"#262626","titlePadding":14}},
    "y": {"field":"y","type":"quantitative","title":"Log10 (normalised expression PDS group)","scale":{"domain":[-5.5,0.5],"range":[287.9,15.9],"nice":false,"zero":false},"axis":{"title":"Log10 (normalised expression PDS group)","values":[-5.5,-5,-4.5,-4,-3.5,-3,-2.5,-2,-1.5,-1,-0.5,0,0.5],"labelExpr":"replace(format(datum.value, '.1f'), '\u2212', '-')","offset":-20.3,"grid":false,"domainColor":"#8c8c8c","tickColor":"#8c8c8c","tickSize":4,"labelFontSize":13,"labelColor":"#595959","labelPadding":4,"labelOverlap":false,"titleFontSize":14,"titleFontWeight":"normal","titleColor":"#262626","titlePadding":14}},
    "fill": {"field":"s","type":"nominal","scale":{"domain":["n","u"],"range":["white","#c00000"]},"legend":null},
    "stroke": {"field":"s","type":"nominal","scale":{"domain":["n","u"],"range":["black","#c00000"]},"legend":null}
   }}
 ]
},
{
 "width": 279, "height": 289.6,
 "layer": [
  {"data": {"values": [{"ln":"solid","x":-5.23,"y":-5.08},{"ln":"solid","x":0.48,"y":0.45},{"ln":"up","x":-5.37,"y":-4.94},{"ln":"up","x":0.39,"y":0.59},{"ln":"lo","x":-5.06,"y":-5.23},{"ln":"lo","x":0.68,"y":0.29}]},
   "mark": {"type": "line", "color": "#8c8c8c", "strokeWidth": 1},
   "encoding": {
    "x": {"field":"x","type":"quantitative","title":"Log10 (normalised expression PBS group)","scale":{"domain":[-5.5,0.5],"range":[9,279],"nice":false,"zero":false},"axis":{"title":"Log10 (normalised expression PBS group)","values":[-5.5,-5,-4.5,-4,-3.5,-3,-2.5,-2,-1.5,-1,-0.5,0,0.5],"labelExpr":"replace(format(datum.value, '.1f'), '\u2212', '-')","grid":false,"domainColor":"#8c8c8c","tickColor":"#8c8c8c","tickSize":4,"labelFontSize":13,"labelColor":"#595959","labelPadding":6,"labelOverlap":false,"labelFlush":false,"titleFontSize":14,"titleFontWeight":"normal","titleColor":"#262626","titlePadding":14}},
    "y": {"field":"y","type":"quantitative","title":"Log10 (normalised expression PDS + sTLR2 group)","scale":{"domain":[-5.5,0.5],"range":[289.6,12.9],"nice":false,"zero":false},"axis":{"title":"Log10 (normalised expression PDS + sTLR2 group)","values":[-5.5,-5,-4.5,-4,-3.5,-3,-2.5,-2,-1.5,-1,-0.5,0,0.5],"labelExpr":"replace(format(datum.value, '.1f'), '\u2212', '-')","offset":-9,"grid":false,"domainColor":"#8c8c8c","tickColor":"#8c8c8c","tickSize":4,"labelFontSize":13,"labelColor":"#595959","labelPadding":4,"labelOverlap":false,"titleFontSize":14,"titleFontWeight":"normal","titleColor":"#262626","titlePadding":14}},
    "detail": {"field":"ln"},
    "strokeDash": {"field":"ln","type":"nominal","scale":{"domain":["solid","up","lo"],"range":[[1,0],[3,2],[3,2]]},"legend":null}
   }},
  {"data": {"values": [
    {"x":-4.77,"y":-4.42,"s":"u"},
    {"x":0.27,"y":0.25,"s":"n"},{"x":-0.04,"y":-0.01,"s":"n"},{"x":-0.15,"y":-0.37,"s":"n"},{"x":-0.29,"y":-0.47,"s":"n"},{"x":-0.84,"y":-0.76,"s":"n"},{"x":-0.89,"y":-0.9,"s":"n"},{"x":-0.97,"y":-1.0,"s":"n"},{"x":-0.94,"y":-1.08,"s":"n"},{"x":-1.04,"y":-1.11,"s":"n"},{"x":-1.17,"y":-1.05,"s":"n"},{"x":-1.19,"y":-1.36,"s":"n"},{"x":-1.26,"y":-1.45,"s":"n"},{"x":-1.41,"y":-1.36,"s":"n"},{"x":-1.45,"y":-1.47,"s":"n"},{"x":-1.48,"y":-1.54,"s":"n"},{"x":-1.58,"y":-1.47,"s":"n"},{"x":-1.61,"y":-1.36,"s":"n"},{"x":-1.61,"y":-1.5,"s":"n"},{"x":-1.56,"y":-1.63,"s":"n"},{"x":-1.71,"y":-1.54,"s":"n"},{"x":-1.69,"y":-1.67,"s":"n"},{"x":-1.82,"y":-1.78,"s":"n"},{"x":-1.85,"y":-1.86,"s":"n"},{"x":-1.89,"y":-1.94,"s":"n"},{"x":-1.91,"y":-1.73,"s":"n"},{"x":-1.74,"y":-1.86,"s":"n"},{"x":-1.82,"y":-2.01,"s":"n"},{"x":-1.85,"y":-2.08,"s":"n"},{"x":-1.98,"y":-1.9,"s":"n"},{"x":-2.04,"y":-1.79,"s":"n"},{"x":-2.04,"y":-1.86,"s":"n"},{"x":-2.05,"y":-1.94,"s":"n"},{"x":-1.98,"y":-2.01,"s":"n"},{"x":-2.0,"y":-2.15,"s":"n"},{"x":-2.08,"y":-2.12,"s":"n"},{"x":-2.1,"y":-2.23,"s":"n"},{"x":-2.15,"y":-2.32,"s":"n"},{"x":-2.26,"y":-2.26,"s":"n"},{"x":-2.33,"y":-2.3,"s":"n"},{"x":-2.26,"y":-2.37,"s":"n"},{"x":-2.15,"y":-2.46,"s":"n"},{"x":-2.56,"y":-2.46,"s":"n"},{"x":-2.57,"y":-2.59,"s":"n"},{"x":-2.65,"y":-2.66,"s":"n"},{"x":-2.7,"y":-2.72,"s":"n"},{"x":-2.74,"y":-2.77,"s":"n"},{"x":-2.85,"y":-2.8,"s":"n"},{"x":-2.93,"y":-2.84,"s":"n"},{"x":-3.09,"y":-2.79,"s":"n"},{"x":-3.07,"y":-2.91,"s":"n"},{"x":-2.96,"y":-2.95,"s":"n"},{"x":-2.89,"y":-2.99,"s":"n"},{"x":-2.89,"y":-3.09,"s":"n"},{"x":-2.82,"y":-3.12,"s":"n"},{"x":-3.09,"y":-3.15,"s":"n"},{"x":-3.26,"y":-3.06,"s":"n"},{"x":-3.63,"y":-3.4,"s":"n"},{"x":-4.18,"y":-3.51,"s":"n"},{"x":-4.04,"y":-3.51,"s":"n"},{"x":-4.02,"y":-3.67,"s":"n"},{"x":-3.87,"y":-3.69,"s":"n"},{"x":-4.05,"y":-3.82,"s":"n"},{"x":-3.92,"y":-3.83,"s":"n"},{"x":-4.72,"y":-3.96,"s":"n"},{"x":-4.72,"y":-4.18,"s":"n"},{"x":-4.72,"y":-4.32,"s":"n"},{"x":-4.72,"y":-4.4,"s":"n"},{"x":-4.57,"y":-4.4,"s":"n"},{"x":-4.72,"y":-4.5,"s":"n"},{"x":-4.72,"y":-4.63,"s":"n"},
    {"x":-1.91,"y":-1.56,"s":"u"},{"x":-3.67,"y":-3.04,"s":"u"},{"x":-1.63,"y":-2.01,"s":"d"}
   ]},
   "mark": {"type": "point", "shape": "circle", "filled": true, "opacity": 1, "size": 36, "strokeWidth": 1.5},
   "encoding": {
    "x": {"field":"x","type":"quantitative","title":"Log10 (normalised expression PBS group)","scale":{"domain":[-5.5,0.5],"range":[9,279],"nice":false,"zero":false},"axis":{"title":"Log10 (normalised expression PBS group)","values":[-5.5,-5,-4.5,-4,-3.5,-3,-2.5,-2,-1.5,-1,-0.5,0,0.5],"labelExpr":"replace(format(datum.value, '.1f'), '\u2212', '-')","grid":false,"domainColor":"#8c8c8c","tickColor":"#8c8c8c","tickSize":4,"labelFontSize":13,"labelColor":"#595959","labelPadding":6,"labelOverlap":false,"labelFlush":false,"titleFontSize":14,"titleFontWeight":"normal","titleColor":"#262626","titlePadding":14}},
    "y": {"field":"y","type":"quantitative","title":"Log10 (normalised expression PDS + sTLR2 group)","scale":{"domain":[-5.5,0.5],"range":[289.6,12.9],"nice":false,"zero":false},"axis":{"title":"Log10 (normalised expression PDS + sTLR2 group)","values":[-5.5,-5,-4.5,-4,-3.5,-3,-2.5,-2,-1.5,-1,-0.5,0,0.5],"labelExpr":"replace(format(datum.value, '.1f'), '\u2212', '-')","offset":-9,"grid":false,"domainColor":"#8c8c8c","tickColor":"#8c8c8c","tickSize":4,"labelFontSize":13,"labelColor":"#595959","labelPadding":4,"labelOverlap":false,"titleFontSize":14,"titleFontWeight":"normal","titleColor":"#262626","titlePadding":14}},
    "fill": {"field":"s","type":"nominal","scale":{"domain":["n","u","d","dl"],"range":["white","#c00000","#3d9140","#1d5c45"]},"legend":null},
    "stroke": {"field":"s","type":"nominal","scale":{"domain":["n","u","d","dl"],"range":["black","#c00000","#3d9140","#1d5c45"]},"legend":null}
   }},
  {"data": {"values": [{"x":-1.493,"y":-3.548,"s":"n"},{"x":-1.51,"y":-3.94,"s":"u"},{"x":-1.51,"y":-4.344,"s":"dl"}]},
   "mark": {"type": "point", "shape": "circle", "filled": true, "opacity": 1, "size": 18, "strokeWidth": 1},
   "encoding": {
    "x": {"field":"x","type":"quantitative","title":"Log10 (normalised expression PBS group)","scale":{"domain":[-5.5,0.5],"range":[9,279],"nice":false,"zero":false},"axis":{"title":"Log10 (normalised expression PBS group)","values":[-5.5,-5,-4.5,-4,-3.5,-3,-2.5,-2,-1.5,-1,-0.5,0,0.5],"labelExpr":"replace(format(datum.value, '.1f'), '\u2212', '-')","grid":false,"domainColor":"#8c8c8c","tickColor":"#8c8c8c","tickSize":4,"labelFontSize":13,"labelColor":"#595959","labelPadding":6,"labelOverlap":false,"labelFlush":false,"titleFontSize":14,"titleFontWeight":"normal","titleColor":"#262626","titlePadding":14}},
    "y": {"field":"y","type":"quantitative","title":"Log10 (normalised expression PDS + sTLR2 group)","scale":{"domain":[-5.5,0.5],"range":[289.6,12.9],"nice":false,"zero":false},"axis":{"title":"Log10 (normalised expression PDS + sTLR2 group)","values":[-5.5,-5,-4.5,-4,-3.5,-3,-2.5,-2,-1.5,-1,-0.5,0,0.5],"labelExpr":"replace(format(datum.value, '.1f'), '\u2212', '-')","offset":-9,"grid":false,"domainColor":"#8c8c8c","tickColor":"#8c8c8c","tickSize":4,"labelFontSize":13,"labelColor":"#595959","labelPadding":4,"labelOverlap":false,"titleFontSize":14,"titleFontWeight":"normal","titleColor":"#262626","titlePadding":14}},
    "fill": {"field":"s","type":"nominal","scale":{"domain":["n","u","d","dl"],"range":["white","#c00000","#3d9140","#1d5c45"]},"legend":null},
    "stroke": {"field":"s","type":"nominal","scale":{"domain":["n","u","d","dl"],"range":["black","#c00000","#3d9140","#1d5c45"]},"legend":null}
   }},
  {"data": {"values": [{"x":-1.35,"y":-3.548,"t":"Genes not affected"},{"x":-1.35,"y":-3.94,"t":"Genes up-modulated"},{"x":-1.35,"y":-4.344,"t":"Genes down-modulated"}]},
   "mark": {"type": "text", "align": "left", "baseline": "middle", "font": "Liberation Sans", "fontSize": 10, "color": "#595959"},
   "encoding": {
    "x": {"field":"x","type":"quantitative","title":"Log10 (normalised expression PBS group)","scale":{"domain":[-5.5,0.5],"range":[9,279],"nice":false,"zero":false},"axis":{"title":"Log10 (normalised expression PBS group)","values":[-5.5,-5,-4.5,-4,-3.5,-3,-2.5,-2,-1.5,-1,-0.5,0,0.5],"labelExpr":"replace(format(datum.value, '.1f'), '\u2212', '-')","grid":false,"domainColor":"#8c8c8c","tickColor":"#8c8c8c","tickSize":4,"labelFontSize":13,"labelColor":"#595959","labelPadding":6,"labelOverlap":false,"labelFlush":false,"titleFontSize":14,"titleFontWeight":"normal","titleColor":"#262626","titlePadding":14}},
    "y": {"field":"y","type":"quantitative","title":"Log10 (normalised expression PDS + sTLR2 group)","scale":{"domain":[-5.5,0.5],"range":[289.6,12.9],"nice":false,"zero":false},"axis":{"title":"Log10 (normalised expression PDS + sTLR2 group)","values":[-5.5,-5,-4.5,-4,-3.5,-3,-2.5,-2,-1.5,-1,-0.5,0,0.5],"labelExpr":"replace(format(datum.value, '.1f'), '\u2212', '-')","offset":-9,"grid":false,"domainColor":"#8c8c8c","tickColor":"#8c8c8c","tickSize":4,"labelFontSize":13,"labelColor":"#595959","labelPadding":4,"labelOverlap":false,"titleFontSize":14,"titleFontWeight":"normal","titleColor":"#262626","titlePadding":14}},
    "text": {"field":"t"}
   }},
  {"data": {"values": [{"x":-1.83,"y":0.665,"t":"PDS + sTLR2","al":"r"},{"x":-1.618,"y":0.665,"t":"vs","al":"c"},{"x":-1.4,"y":0.665,"t":"PBS","al":"l"}]},
   "layer": [
    {"transform": [{"filter": "datum.al === 'r'"}],
     "mark": {"type": "text", "align": "right", "baseline": "alphabetic", "fontSize": 14, "color": "#1a1a1a"},
     "encoding": {
      "x": {"field":"x","type":"quantitative","title":"Log10 (normalised expression PBS group)","scale":{"domain":[-5.5,0.5],"range":[9,279],"nice":false,"zero":false},"axis":{"title":"Log10 (normalised expression PBS group)","values":[-5.5,-5,-4.5,-4,-3.5,-3,-2.5,-2,-1.5,-1,-0.5,0,0.5],"labelExpr":"replace(format(datum.value, '.1f'), '\u2212', '-')","grid":false,"domainColor":"#8c8c8c","tickColor":"#8c8c8c","tickSize":4,"labelFontSize":13,"labelColor":"#595959","labelPadding":6,"labelOverlap":false,"labelFlush":false,"titleFontSize":14,"titleFontWeight":"normal","titleColor":"#262626","titlePadding":14}},
      "y": {"field":"y","type":"quantitative","title":"Log10 (normalised expression PDS + sTLR2 group)","scale":{"domain":[-5.5,0.5],"range":[289.6,12.9],"nice":false,"zero":false},"axis":{"title":"Log10 (normalised expression PDS + sTLR2 group)","values":[-5.5,-5,-4.5,-4,-3.5,-3,-2.5,-2,-1.5,-1,-0.5,0,0.5],"labelExpr":"replace(format(datum.value, '.1f'), '\u2212', '-')","offset":-9,"grid":false,"domainColor":"#8c8c8c","tickColor":"#8c8c8c","tickSize":4,"labelFontSize":13,"labelColor":"#595959","labelPadding":4,"labelOverlap":false,"titleFontSize":14,"titleFontWeight":"normal","titleColor":"#262626","titlePadding":14}},
      "text": {"field":"t"}
     }},
    {"transform": [{"filter": "datum.al === 'c'"}],
     "mark": {"type": "text", "align": "center", "baseline": "alphabetic", "fontSize": 14, "fontStyle": "italic", "color": "#1a1a1a"},
     "encoding": {
      "x": {"field":"x","type":"quantitative","title":"Log10 (normalised expression PBS group)","scale":{"domain":[-5.5,0.5],"range":[9,279],"nice":false,"zero":false},"axis":{"title":"Log10 (normalised expression PBS group)","values":[-5.5,-5,-4.5,-4,-3.5,-3,-2.5,-2,-1.5,-1,-0.5,0,0.5],"labelExpr":"replace(format(datum.value, '.1f'), '\u2212', '-')","grid":false,"domainColor":"#8c8c8c","tickColor":"#8c8c8c","tickSize":4,"labelFontSize":13,"labelColor":"#595959","labelPadding":6,"labelOverlap":false,"labelFlush":false,"titleFontSize":14,"titleFontWeight":"normal","titleColor":"#262626","titlePadding":14}},
      "y": {"field":"y","type":"quantitative","title":"Log10 (normalised expression PDS + sTLR2 group)","scale":{"domain":[-5.5,0.5],"range":[289.6,12.9],"nice":false,"zero":false},"axis":{"title":"Log10 (normalised expression PDS + sTLR2 group)","values":[-5.5,-5,-4.5,-4,-3.5,-3,-2.5,-2,-1.5,-1,-0.5,0,0.5],"labelExpr":"replace(format(datum.value, '.1f'), '\u2212', '-')","offset":-9,"grid":false,"domainColor":"#8c8c8c","tickColor":"#8c8c8c","tickSize":4,"labelFontSize":13,"labelColor":"#595959","labelPadding":4,"labelOverlap":false,"titleFontSize":14,"titleFontWeight":"normal","titleColor":"#262626","titlePadding":14}},
      "text": {"field":"t"}
     }},
    {"transform": [{"filter": "datum.al === 'l'"}],
     "mark": {"type": "text", "align": "left", "baseline": "alphabetic", "fontSize": 14, "color": "#1a1a1a"},
     "encoding": {
      "x": {"field":"x","type":"quantitative","title":"Log10 (normalised expression PBS group)","scale":{"domain":[-5.5,0.5],"range":[9,279],"nice":false,"zero":false},"axis":{"title":"Log10 (normalised expression PBS group)","values":[-5.5,-5,-4.5,-4,-3.5,-3,-2.5,-2,-1.5,-1,-0.5,0,0.5],"labelExpr":"replace(format(datum.value, '.1f'), '\u2212', '-')","grid":false,"domainColor":"#8c8c8c","tickColor":"#8c8c8c","tickSize":4,"labelFontSize":13,"labelColor":"#595959","labelPadding":6,"labelOverlap":false,"labelFlush":false,"titleFontSize":14,"titleFontWeight":"normal","titleColor":"#262626","titlePadding":14}},
      "y": {"field":"y","type":"quantitative","title":"Log10 (normalised expression PDS + sTLR2 group)","scale":{"domain":[-5.5,0.5],"range":[289.6,12.9],"nice":false,"zero":false},"axis":{"title":"Log10 (normalised expression PDS + sTLR2 group)","values":[-5.5,-5,-4.5,-4,-3.5,-3,-2.5,-2,-1.5,-1,-0.5,0,0.5],"labelExpr":"replace(format(datum.value, '.1f'), '\u2212', '-')","offset":-9,"grid":false,"domainColor":"#8c8c8c","tickColor":"#8c8c8c","tickSize":4,"labelFontSize":13,"labelColor":"#595959","labelPadding":4,"labelOverlap":false,"titleFontSize":14,"titleFontWeight":"normal","titleColor":"#262626","titlePadding":14}},
      "text": {"field":"t"}
     }}
   ]},
  {"data": {"values": [{"x":-3.53,"x2":-0.97,"y":0.608}]},
   "mark": {"type": "rule", "color": "#1a1a1a", "strokeWidth": 1},
   "encoding": {
    "x": {"field":"x","type":"quantitative","title":"Log10 (normalised expression PBS group)","scale":{"domain":[-5.5,0.5],"range":[9,279],"nice":false,"zero":false},"axis":{"title":"Log10 (normalised expression PBS group)","values":[-5.5,-5,-4.5,-4,-3.5,-3,-2.5,-2,-1.5,-1,-0.5,0,0.5],"labelExpr":"replace(format(datum.value, '.1f'), '\u2212', '-')","grid":false,"domainColor":"#8c8c8c","tickColor":"#8c8c8c","tickSize":4,"labelFontSize":13,"labelColor":"#595959","labelPadding":6,"labelOverlap":false,"labelFlush":false,"titleFontSize":14,"titleFontWeight":"normal","titleColor":"#262626","titlePadding":14}},
    "x2": {"field":"x2"},
    "y": {"field":"y","type":"quantitative","title":"Log10 (normalised expression PDS + sTLR2 group)","scale":{"domain":[-5.5,0.5],"range":[289.6,12.9],"nice":false,"zero":false},"axis":{"title":"Log10 (normalised expression PDS + sTLR2 group)","values":[-5.5,-5,-4.5,-4,-3.5,-3,-2.5,-2,-1.5,-1,-0.5,0,0.5],"labelExpr":"replace(format(datum.value, '.1f'), '\u2212', '-')","offset":-9,"grid":false,"domainColor":"#8c8c8c","tickColor":"#8c8c8c","tickSize":4,"labelFontSize":13,"labelColor":"#595959","labelPadding":4,"labelOverlap":false,"titleFontSize":14,"titleFontWeight":"normal","titleColor":"#262626","titlePadding":14}}
   }}
 ]
}
]
}
